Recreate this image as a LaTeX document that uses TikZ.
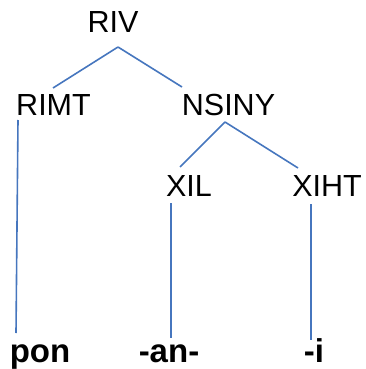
\documentclass[tikz,border=0pt]{standalone}
\usepackage{fontspec}
\setmainfont{Liberation Sans}
\begin{document}
\begin{tikzpicture}[x=1pt,y=-1pt,
  lbl/.style={inner sep=0pt, anchor=base, font=\fontsize{30.5}{31}\selectfont},
  leaf/.style={inner sep=0pt, anchor=base, font=\fontsize{33}{34}\selectfont\bfseries}]
\tikzset{edge/.style={draw={rgb,255:red,70;green,118;blue,190}, line width=1.6pt}}
\useasboundingbox (0,0) rectangle (365,369);
\node[lbl] (riv) at (113,33) {RIV};
\node[lbl] (rimt) at (53.5,115) {RIMT};
\node[lbl] (nsiny) at (228.5,115) {NSINY};
\node[lbl] (xil) at (189,196) {XIL};
\node[lbl] (xiht) at (327,196) {XIHT};
\node[leaf] (pon) at (40,362) {pon};
\node[leaf] (an) at (169,362) {-an-};
\node[leaf] (i) at (314,362) {-i};
\coordinate (rivb) at (118,47);
\coordinate (rimtt) at (53,88);
\coordinate (nsinyt) at (182,87);
\coordinate (rimtb) at (18,120);
\coordinate (pont) at (16,333);
\coordinate (nsinyb) at (225,122);
\coordinate (xilt) at (180,167);
\coordinate (xihtt) at (298,168);
\coordinate (xilb) at (171,203);
\coordinate (ant) at (171,338);
\coordinate (xihtb) at (311,204);
\coordinate (it) at (311,340);
\path[edge] (rivb) -- (rimtt);
\path[edge] (rivb) -- (nsinyt);
\path[edge] (rimtb) -- (pont);
\path[edge] (nsinyb) -- (xilt);
\path[edge] (nsinyb) -- (xihtt);
\path[edge] (xilb) -- (ant);
\path[edge] (xihtb) -- (it);
\end{tikzpicture}
\end{document}
